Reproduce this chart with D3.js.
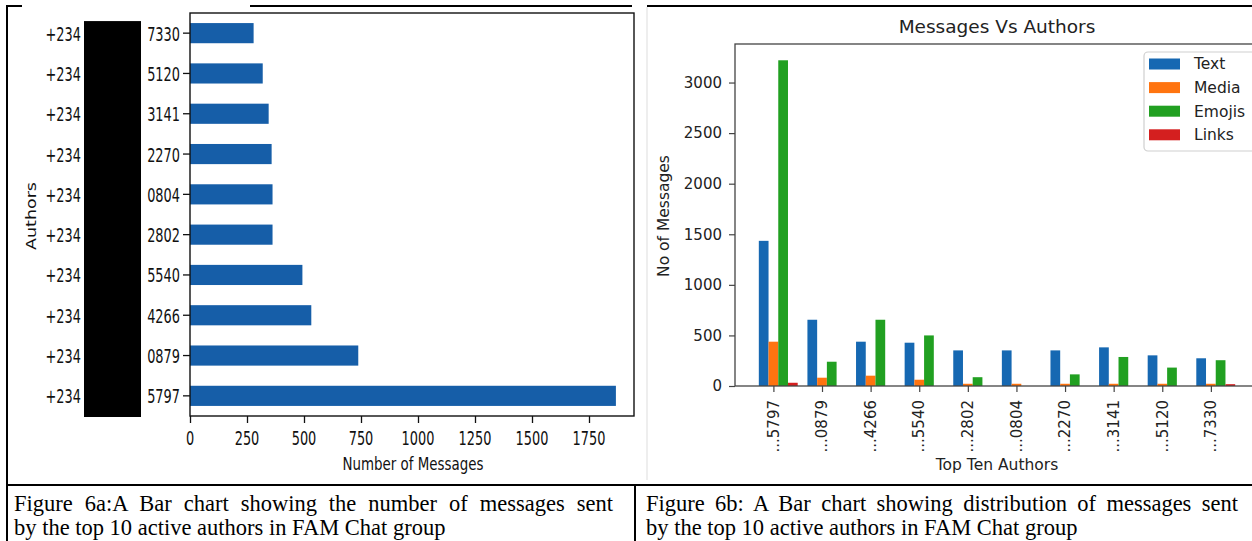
<!DOCTYPE html>
<html><head><meta charset="utf-8">
<script src="https://cdn.jsdelivr.net/npm/d3@7"></script>
<style>
html,body{margin:0;padding:0;background:#fff;}
svg{display:block;}
</style></head><body>
<svg id="c" width="1252" height="541"></svg>
<script>
// ---------- DATA ----------
const authorsA = ["5797","0879","4266","5540","2802","0804","2270","3141","5120","7330"];
const authorPrefix = "+234";
const totalMessages = [1868, 738, 532, 493, 362, 362, 358, 345, 319, 279];
const xTicksA = [0, 250, 500, 750, 1000, 1250, 1500, 1750];

const authorsB = ["...5797","...0879","...4266","...5540","...2802","...0804","...2270","...3141","...5120","...7330"];
const seriesNames = ["Text", "Media", "Emojis", "Links"];
const textMsgs  = [1435, 655, 438, 428, 352, 352, 352, 382, 303, 274];
const mediaMsgs = [438, 82, 102, 62, 22, 22, 22, 22, 22, 22];
const emojiMsgs = [3220, 240, 655, 500, 87, 0, 115, 287, 182, 255];
const linkMsgs  = [32, 0, 0, 0, 0, 0, 0, 0, 0, 18];
const yTicksB = [0, 500, 1000, 1500, 2000, 2500, 3000];

const captionA = ["Figure 6a:A Bar chart showing the number of messages sent", "by the top 10 active authors in FAM Chat group"];
const captionB = ["Figure 6b: A Bar chart showing distribution of messages sent", "by the top 10 active authors in FAM Chat group"];

// ---------- DRAW ----------
const svg = d3.select("#c");
const FONT = "'DejaVu Sans', Verdana, sans-serif";
const SQ = 0.68; // horizontal squish of left picture text

// ===== Table frame =====
const frame = svg.append("g").attr("stroke", "#000").attr("stroke-width", 2);
frame.append("line").attr("x1", 7).attr("x2", 7).attr("y1", 5).attr("y2", 541);
frame.append("line").attr("x1", 6).attr("x2", 22).attr("y1", 6).attr("y2", 6);
frame.append("line").attr("x1", 250).attr("x2", 632).attr("y1", 6).attr("y2", 6);
frame.append("line").attr("x1", 647).attr("x2", 1252).attr("y1", 6).attr("y2", 6);
frame.append("line").attr("x1", 6).attr("x2", 1252).attr("y1", 485).attr("y2", 485);
frame.append("line").attr("x1", 635).attr("x2", 635).attr("y1", 485).attr("y2", 541);
svg.append("line").attr("x1", 647).attr("x2", 647).attr("y1", 7).attr("y2", 480)
  .attr("stroke", "#ddd").attr("stroke-width", 1);

// ===== Left chart (horizontal bars) =====
const gA = svg.append("g");
const xA = d3.scaleLinear().domain([0, 1750]).range([190, 589]);
const yA = d3.scaleBand().domain(authorsA.slice().reverse()).range([13, 416])
  .paddingInner(0.5).paddingOuter(0.25);
const plotRightA = 634;

gA.selectAll("rect.bar").data(authorsA).join("rect")
  .attr("class", "bar")
  .attr("x", xA(0))
  .attr("y", d => yA(d))
  .attr("width", (d, i) => xA(totalMessages[i]) - xA(0))
  .attr("height", yA.bandwidth())
  .attr("fill", "#165ea8");

gA.append("rect").attr("x", xA(0)).attr("y", 13)
  .attr("width", plotRightA - xA(0)).attr("height", 416 - 13)
  .attr("fill", "none").attr("stroke", "#111").attr("stroke-width", 1.4);

const axA = d3.axisBottom(xA).tickValues(xTicksA).tickSize(7).tickFormat("");
const gx = gA.append("g").attr("transform", "translate(0,416)").call(axA);
gx.select(".domain").remove();
gx.selectAll("line").attr("stroke", "#111").attr("stroke-width", 1.3);
gA.selectAll("text.xt").data(xTicksA).join("text").attr("class", "xt")
  .attr("transform", d => `translate(${xA(d)},445) scale(${SQ},1)`)
  .attr("text-anchor", "middle").attr("font-family", FONT).attr("font-size", 19)
  .attr("fill", "#111").text(d => d);

const ayA = d3.axisLeft(yA).tickSize(7).tickFormat("");
const gy = gA.append("g").attr("transform", `translate(${xA(0)},0)`).call(ayA);
gy.select(".domain").remove();
gy.selectAll("line").attr("stroke", "#111").attr("stroke-width", 1.3);

gA.selectAll("text.yn").data(authorsA).join("text").attr("class", "yn")
  .attr("transform", d => `translate(180,${yA(d) + yA.bandwidth() / 2 + 7.5}) scale(${SQ},1)`)
  .attr("text-anchor", "end").attr("font-family", FONT).attr("font-size", 19)
  .attr("fill", "#111").text(d => d);
gA.selectAll("text.yp").data(authorsA).join("text").attr("class", "yp")
  .attr("transform", d => `translate(81,${yA(d) + yA.bandwidth() / 2 + 7.5}) scale(${SQ},1)`)
  .attr("text-anchor", "end").attr("font-family", FONT).attr("font-size", 19)
  .attr("fill", "#111").text(authorPrefix);
gA.append("rect").attr("x", 84).attr("width", 57)
  .attr("y", yA(authorsA[authorsA.length - 1]) - 2).attr("height", 417 - (yA(authorsA[authorsA.length - 1]) - 2))
  .attr("fill", "#000");

gA.append("text").attr("transform", "translate(36,216) rotate(-90) scale(1,0.8)")
  .attr("text-anchor", "middle").attr("font-family", FONT).attr("font-size", 17.5)
  .attr("fill", "#111").text("Authors");
gA.append("text").attr("transform", "translate(413,470) scale(0.745,1)")
  .attr("text-anchor", "middle").attr("font-family", FONT).attr("font-size", 18)
  .attr("fill", "#111").text("Number of Messages");

// ===== Right chart (grouped bars) =====
const gB = svg.append("g");
const xB = d3.scaleLinear().domain([-0.79, 9.99]).range([735, 1259]);
const yB = d3.scaleLinear().domain([0, 3381]).range([386, 44]);
const colors = ["#1668b2", "#ff7410", "#21a021", "#d41f1f"];
const seriesVals = [textMsgs, mediaMsgs, emojiMsgs, linkMsgs];
const bw = 0.2;
const offsets = [-1, 0, 1, 2];

seriesVals.forEach((vals, s) => {
  gB.selectAll(`rect.s${s}`).data(vals).join("rect").attr("class", `s${s}`)
    .attr("x", (d, i) => xB(i + offsets[s] * bw - bw / 2))
    .attr("width", xB(bw) - xB(0))
    .attr("y", d => yB(d))
    .attr("height", d => yB(0) - yB(d))
    .attr("fill", colors[s]);
});

gB.append("rect").attr("x", 735).attr("y", 44).attr("width", 1259 - 735).attr("height", 386 - 44)
  .attr("fill", "none").attr("stroke", "#444").attr("stroke-width", 1.3);

const gyB = gB.append("g").attr("transform", "translate(735,0)")
  .call(d3.axisLeft(yB).tickValues(yTicksB).tickSize(6).tickPadding(7).tickFormat(d3.format("d")));
gyB.select(".domain").remove();
gyB.selectAll("line").attr("stroke", "#444").attr("stroke-width", 1.2);
gyB.selectAll("text").attr("font-family", FONT).attr("font-size", 15).attr("fill", "#222");

const idx = d3.range(authorsB.length);
const gxB = gB.append("g").attr("transform", "translate(0,386)")
  .call(d3.axisBottom(xB).tickValues(idx).tickSize(6).tickFormat(""));
gxB.select(".domain").remove();
gxB.selectAll("line").attr("stroke", "#444").attr("stroke-width", 1.2);
gB.selectAll("text.xl").data(authorsB).join("text").attr("class", "xl")
  .attr("transform", (d, i) => `translate(${xB(i)},400) rotate(-90)`)
  .attr("text-anchor", "end").attr("dy", "0.35em")
  .attr("font-family", FONT).attr("font-size", 15).attr("fill", "#222").text(d => d);

gB.append("text").attr("x", (735 + 1259) / 2).attr("y", 33)
  .attr("text-anchor", "middle").attr("font-family", FONT).attr("font-size", 18.5)
  .attr("fill", "#222").text("Messages Vs Authors");
gB.append("text").attr("transform", "translate(669,216) rotate(-90)")
  .attr("text-anchor", "middle").attr("font-family", FONT).attr("font-size", 15.5)
  .attr("fill", "#222").text("No of Messages");
gB.append("text").attr("x", (735 + 1259) / 2).attr("y", 470)
  .attr("text-anchor", "middle").attr("font-family", FONT).attr("font-size", 15.5)
  .attr("fill", "#222").text("Top Ten Authors");

const lg = gB.append("g");
lg.append("rect").attr("x", 1144).attr("y", 52).attr("width", 112).attr("height", 99).attr("rx", 4)
  .attr("fill", "#fff").attr("stroke", "#cfcfcf").attr("stroke-width", 1.2);
seriesNames.forEach((n, i) => {
  const cy = 64 + i * 23.6;
  lg.append("rect").attr("x", 1149).attr("y", cy - 5.5).attr("width", 31).attr("height", 11).attr("fill", colors[i]);
  lg.append("text").attr("x", 1194).attr("y", cy).attr("dy", "0.35em")
    .attr("font-family", FONT).attr("font-size", 15.5).attr("fill", "#222").text(n);
});

// ===== Captions (first line justified to cell width) =====
const capFont = "'Liberation Serif', 'Times New Roman', serif";
[[captionA, 14, 613], [captionB, 646, 1238]].forEach(([lines, x, right]) => {
  lines.forEach((t, i) => {
    const tx = svg.append("text").attr("x", x).attr("y", 511 + i * 24)
      .attr("font-family", capFont).attr("font-size", 22.5).attr("fill", "#000").text(t);
    if (i === 0) {
      const natural = tx.node().getComputedTextLength();
      const spaces = (t.match(/ /g) || []).length;
      const extra = (right - x) - natural;
      if (spaces > 0 && extra > 0) tx.attr("word-spacing", extra / spaces);
    }
  });
});
</script>
</body></html>
